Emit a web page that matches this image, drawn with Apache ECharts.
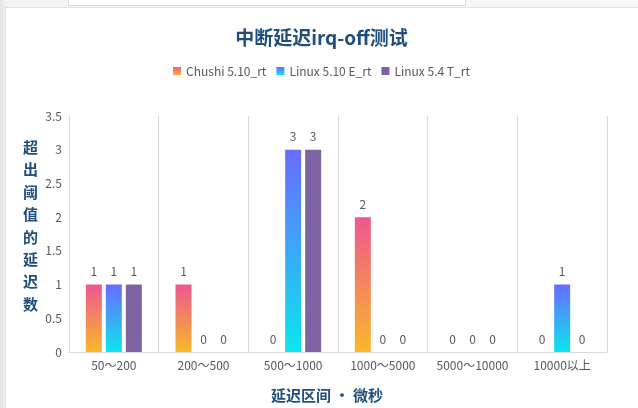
<!DOCTYPE html>
<html><head><meta charset="utf-8">
<script src="https://cdn.jsdelivr.net/npm/echarts@6/dist/echarts.min.js"></script>
<style>
html,body{margin:0;padding:0;width:638px;height:408px;overflow:hidden;background:linear-gradient(90deg,#e4e4e4 0px,#f4f4f4 6px,#f7f7f7 100%);}
#top{position:absolute;left:68px;top:-2px;width:396px;height:6px;background:#fff;border:1px solid #dcdcdc;}
#card{position:absolute;left:5px;top:7px;width:640px;height:410px;background:#fff;border:1px solid #e2e2e2;}
#c{position:absolute;left:5px;top:7px;width:633px;height:401px;}
</style></head>
<body>
<div id="top"></div><div id="card"></div>
<div id="c"></div>
<script>
var categories = ['50～200','200～500','500～1000','1000～5000','5000～10000','10000以上'];
var seriesNames = ['Chushi 5.10_rt','Linux 5.10 E_rt','Linux 5.4 T_rt'];
var chushi = [1,1,0,2,0,0];
var linux510 = [1,0,3,0,0,1];
var linux54 = [1,0,3,0,0,0];
var yTicks = [0,0.5,1,1.5,2,2.5,3,3.5];
var yAxisTitle = '超出阈值的延迟数';
var xAxisTitle = '延迟区间 • 微秒';

var FONT = '"Noto Sans CJK SC", "Noto Sans", sans-serif';
function grad(top, bottom){
  return new echarts.graphic.LinearGradient(0,0,0,1,[{offset:0,color:top},{offset:1,color:bottom}]);
}
var label = {show:true, position:'top', distance:7, color:'#595959', fontSize:12, fontFamily:FONT};
var chart = echarts.init(document.getElementById('c'));
chart.setOption({
  animation:false,
  textStyle:{fontFamily:FONT},
  title:{text:'中断延迟irq-off测试', left:'center', top:16,
    textStyle:{color:'#1F4E79', fontSize:19, fontWeight:'bold', fontFamily:FONT}},
  legend:{top:53, left:'center', icon:'rect', itemWidth:8, itemHeight:8, itemGap:10,
    textStyle:{color:'#595959', fontSize:12, fontFamily:FONT}, data:seriesNames},
  grid:{left:64, right:31, top:109, bottom:56},
  graphic:[{type:'text', left:18, top:129,
    style:{text:yAxisTitle.split('').join('\n'), fill:'#1F4E79', font:'bold 15px ' + FONT,
      lineHeight:22.4, align:'center'}}],
  xAxis:{type:'category', data:categories,
    axisLine:{lineStyle:{color:'#d9d9d9'}}, axisTick:{show:false},
    axisLabel:{color:'#595959', fontSize:12, margin:7, interval:0, fontFamily:FONT},
    splitLine:{show:true, interval:0, lineStyle:{color:'#d9d9d9'}},
    name:xAxisTitle, nameLocation:'middle', nameGap:36,
    nameTextStyle:{color:'#1F4E79', fontSize:15, fontWeight:'bold', fontFamily:FONT, padding:[0,22,0,0]}},
  yAxis:{type:'value', min:0, max:3.5, interval:0.5,
    axisLine:{show:false}, axisTick:{show:false}, splitLine:{show:false},
    axisLabel:{color:'#595959', fontSize:12, margin:7, fontFamily:FONT,
      formatter:function(v){return yTicks.indexOf(v)>=0 ? String(v) : '';}}},
  series:[
    {name:seriesNames[0], type:'bar', data:chushi, barWidth:16, barGap:'25%',
      itemStyle:{color:grad('#EE5790','#F8B82A')}, label:label},
    {name:seriesNames[1], type:'bar', data:linux510, barWidth:16, barGap:'25%',
      itemStyle:{color:grad('#6A6BFF','#0BE6EC')}, label:label},
    {name:seriesNames[2], type:'bar', data:linux54, barWidth:16, barGap:'25%',
      itemStyle:{color:'#7E63A3'}, label:label}
  ]
});
</script>
</body></html>
